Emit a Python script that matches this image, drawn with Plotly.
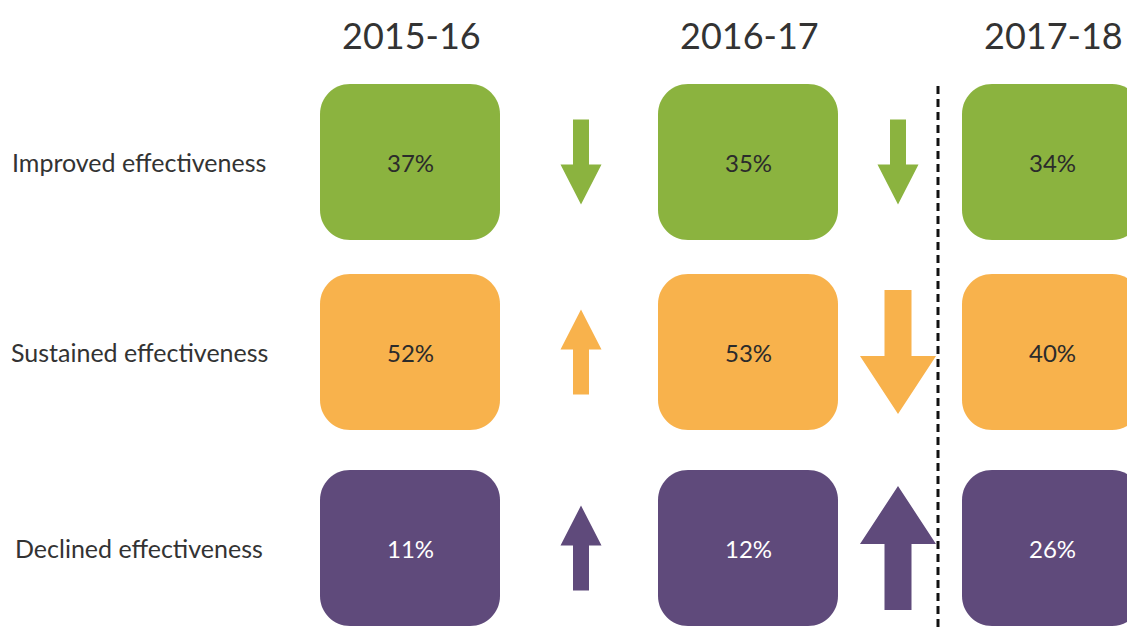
import plotly.graph_objects as go

# ---- data ----
years = ["2015-16", "2016-17", "2017-18"]
categories = ["Improved effectiveness", "Sustained effectiveness", "Declined effectiveness"]
improved = [37, 35, 34]
sustained = [52, 53, 40]
declined = [11, 12, 26]

# ---- style ----
fill_colors = ["#8BB33F", "#F8B24C", "#5F4A7B"]
text_colors = ["#2b2b2b", "#2b2b2b", "#FFFFFF"]

W, H = 1127, 628
col_left = [320, 658, 962]
box_w, box_h = 180, 156
row_center = [162, 352, 548]
arrow_cx = [581, 898]
radius = 30

series = [improved, sustained, declined]

fig = go.Figure()


def rounded_rect(x0, y0, x1, y1, r):
    k = 0.5523 * r
    return (
        f"M {x0 + r},{y0} L {x1 - r},{y0} "
        f"C {x1 - r + k},{y0} {x1},{y0 + r - k} {x1},{y0 + r} "
        f"L {x1},{y1 - r} "
        f"C {x1},{y1 - r + k} {x1 - r + k},{y1} {x1 - r},{y1} "
        f"L {x0 + r},{y1} "
        f"C {x0 + r - k},{y1} {x0},{y1 - r + k} {x0},{y1 - r} "
        f"L {x0},{y0 + r} "
        f"C {x0},{y0 + r - k} {x0 + r - k},{y0} {x0 + r},{y0} Z"
    )


def arrow_path(cx, cy, direction, big):
    if big:
        length, shaft_w, head_w, head_len = 124, 27, 76, 58
    else:
        length, shaft_w, head_w, head_len = 85, 16, 41, 40
    top = cy - length / 2
    bot = cy + length / 2
    if direction < 0:
        hb = bot - head_len
        pts = [
            (cx - shaft_w / 2, top), (cx + shaft_w / 2, top), (cx + shaft_w / 2, hb),
            (cx + head_w / 2, hb), (cx, bot), (cx - head_w / 2, hb), (cx - shaft_w / 2, hb),
        ]
    else:
        hb = top + head_len
        pts = [
            (cx - shaft_w / 2, bot), (cx + shaft_w / 2, bot), (cx + shaft_w / 2, hb),
            (cx + head_w / 2, hb), (cx, top), (cx - head_w / 2, hb), (cx - shaft_w / 2, hb),
        ]
    return "M " + " L ".join(f"{x},{y}" for x, y in pts) + " Z"


shapes = []
annotations = []

for r, vals in enumerate(series):
    for c, v in enumerate(vals):
        x0 = col_left[c]
        y0 = row_center[r] - box_h / 2
        shapes.append(dict(type="path", xref="x", yref="y",
                           path=rounded_rect(x0, y0, x0 + box_w, y0 + box_h, radius),
                           fillcolor=fill_colors[r], line=dict(width=0), layer="below"))
        annotations.append(dict(x=x0 + box_w / 2, y=row_center[r], xref="x", yref="y",
                                text=f"{v}%", showarrow=False,
                                font=dict(family="Lato", size=24, color=text_colors[r])))

for r, vals in enumerate(series):
    for c in range(len(vals) - 1):
        diff = vals[c + 1] - vals[c]
        direction = 1 if diff > 0 else -1
        big = abs(diff) >= 5
        shapes.append(dict(type="path", xref="x", yref="y",
                           path=arrow_path(arrow_cx[c], row_center[r], direction, big),
                           fillcolor=fill_colors[r], line=dict(width=0)))

shapes.append(dict(type="line", xref="x", yref="y", x0=938, x1=938, y0=86, y1=H,
                   line=dict(color="#111111", width=3, dash="8px,5px")))

for c, yr in enumerate(years):
    annotations.append(dict(x=col_left[c] + box_w / 2 + 1, y=35, xref="x", yref="y",
                            text=yr, showarrow=False,
                            font=dict(family="Lato", size=36, color="#333333")))

for r, cat in enumerate(categories):
    annotations.append(dict(x=139, y=row_center[r], xref="x", yref="y",
                            text=cat, showarrow=False,
                            font=dict(family="Lato", size=25, color="#333333")))

fig.add_trace(go.Scatter(x=[0, W], y=[0, H], mode="markers",
                         marker=dict(opacity=0), hoverinfo="skip", showlegend=False))

fig.update_layout(
    width=W, height=H,
    margin=dict(l=0, r=0, t=0, b=0),
    paper_bgcolor="white", plot_bgcolor="white",
    xaxis=dict(range=[0, W], visible=False, fixedrange=True),
    yaxis=dict(range=[H, 0], visible=False, fixedrange=True),
    shapes=shapes, annotations=annotations, showlegend=False,
)

fig.write_html(
    "out.html",
    config={"displayModeBar": False},
    post_script="document.body.style.margin='0';"
                "document.body.style.overflow='hidden';"
                "document.documentElement.style.overflow='hidden';",
)
